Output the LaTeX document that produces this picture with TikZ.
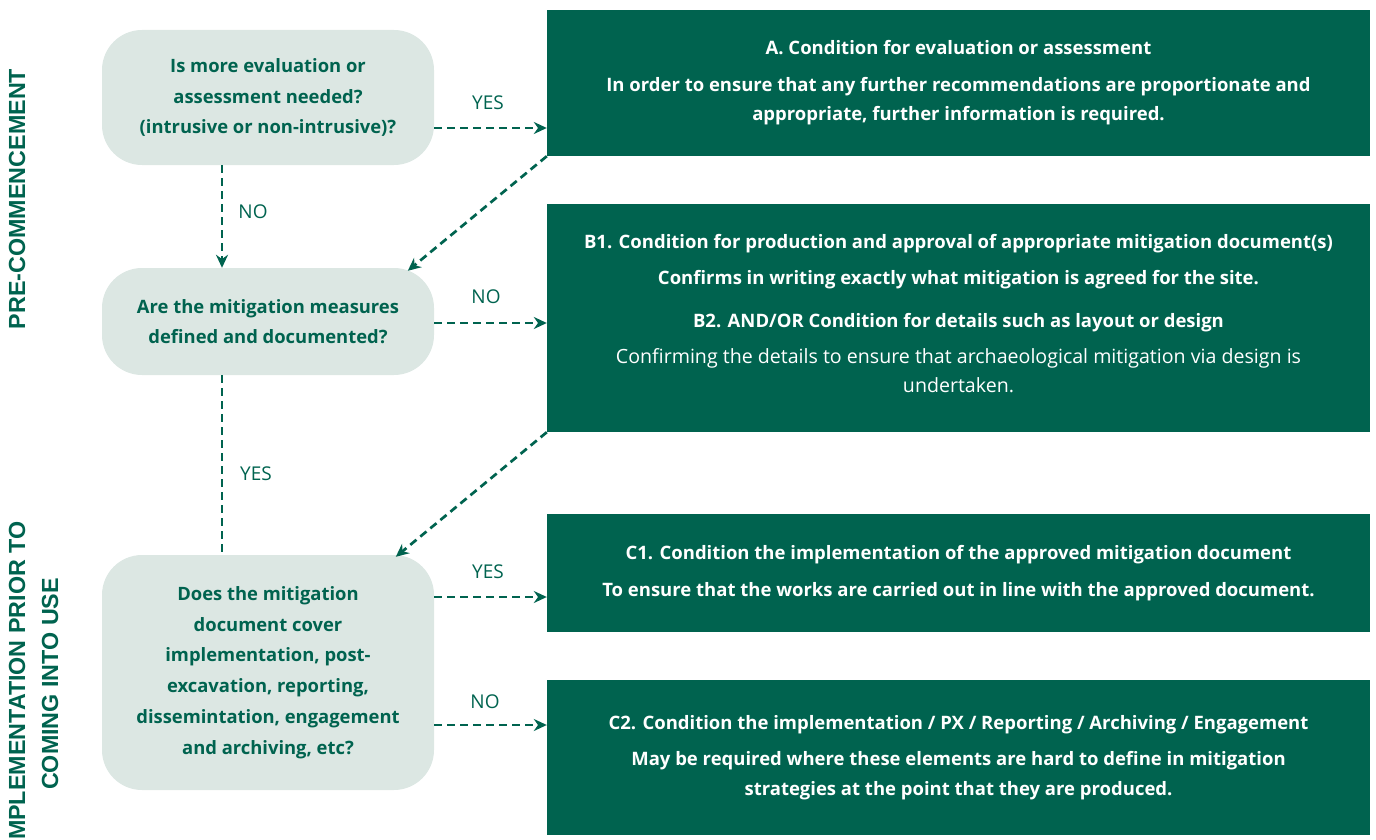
\documentclass[tikz,border=0pt]{standalone}
\usepackage{fontspec}
\setmainfont{Open Sans}
\newfontfamily\labfont{Liberation Sans}
\usetikzlibrary{arrows.meta}
\definecolor{dg}{HTML}{00634F}
\definecolor{lg}{HTML}{DCE7E3}
\begin{document}
\begin{tikzpicture}[x=1pt,y=-1pt,
  qbox/.style={fill=lg, rounded corners=40pt, text=dg, align=center,
    font=\bfseries\fontsize{18.4}{30.7}\selectfont, minimum width=332pt, inner sep=0pt},
  cbox/.style={fill=dg, text=white, align=center,
    font=\bfseries\fontsize{18.5}{29.5}\selectfont, minimum width=823pt, inner sep=0pt},
  flow/.style={draw=dg, line width=2.7pt, dash pattern=on 8pt off 5pt,
    -{Stealth[length=13pt,width=12pt]}},
  plain/.style={draw=dg, line width=2.7pt, dash pattern=on 8pt off 5pt},
  lbl/.style={text=dg, font=\fontsize{19}{20}\selectfont},
  side/.style={text=dg, rotate=90, align=center, font=\labfont\bfseries\fontsize{23.3}{33}\selectfont}
]
\useasboundingbox (0,0) rectangle (1376,840);

% side labels
\node[side] (pc) at (17,199) {PRE-COMMENCEMENT};
\node[side] (im) at (33.5,684) {IMPLEMENTATION PRIOR TO\\COMING INTO USE};

% question boxes
\node[qbox, minimum height=135pt] (q1) at (268,97.5)
  {Is more evaluation or\\assessment needed?\\(intrusive or non-intrusive)?};
\node[qbox, minimum height=107pt] (q2) at (268,321.5)
  {Are the mitigation measures\\defined and documented?};
\node[qbox, minimum height=235pt] (q3) at (268,672.5)
  {Does the mitigation\\document cover\\implementation, post-\\excavation, reporting,\\dissemintation, engagement\\and archiving, etc?};

% condition boxes
\node[cbox, minimum height=146pt] (A) at (958.5,83)
  {A. Condition for evaluation or assessment\\[7pt]
   In order to ensure that any further recommendations are proportionate and\\
   appropriate, further information is required.};
\node[cbox, minimum height=228pt, text depth=0pt] (B) at (958.5,318)
  {B1. Condition for production and approval of appropriate mitigation document(s)\\[6pt]
   Confirms in writing exactly what mitigation is agreed for the site.\\[14pt]
   B2. AND/OR Condition for details such as layout or design\\[6pt]
   {\mdseries\fontsize{19.6}{29.5}\selectfont Confirming the details to ensure that archaeological mitigation via design is}\\
   {\mdseries\fontsize{19.6}{29.5}\selectfont undertaken.}\\[-21pt]\mbox{}};
\node[cbox, minimum height=118pt] (C1) at (958.5,573)
  {C1. Condition the implementation of the approved mitigation document\\[7pt]
   To ensure that the works are carried out in line with the approved document.};
\node[cbox, minimum height=155pt] (C2) at (958.5,757.5)
  {C2. Condition the implementation / PX / Reporting / Archiving / Engagement\\[7pt]
   May be required where these elements are hard to define in mitigation\\
   strategies at the point that they are produced.};

% connectors
\coordinate (s1) at ([yshift=-30.5pt]q1.east);
\draw[flow] (s1) -- (s1 -| A.west);
\node[lbl] (y1) at (488,103) {YES};

\draw[flow] ([xshift=-46pt]q1.south) -- ([xshift=-46pt]q2.north);
\node[lbl] (n1) at (253,212) {NO};

\draw[flow] (A.south west) -- ([xshift=306pt,yshift=-3pt]q2.north west);

\coordinate (s2) at ([yshift=-1.5pt]q2.east);
\draw[flow] (s2) -- (s2 -| B.west);
\node[lbl] (n2) at (486,297) {NO};

\draw[plain] ([xshift=-46pt]q2.south) -- ([xshift=-46pt]q3.north);
\node[lbl] (y2) at (256,474) {YES};

\draw[flow] (B.south west) -- ([xshift=294pt,yshift=-2pt]q3.north west);

\coordinate (s3) at ([yshift=75.5pt]q3.east);
\draw[flow] (s3) -- (s3 -| C1.west);
\node[lbl] (y3) at (488,572) {YES};

\coordinate (s4) at ([yshift=-52.5pt]q3.east);
\draw[flow] (s4) -- (s4 -| C2.west);
\node[lbl] (n3) at (485,702) {NO};
\end{tikzpicture}
\end{document}
